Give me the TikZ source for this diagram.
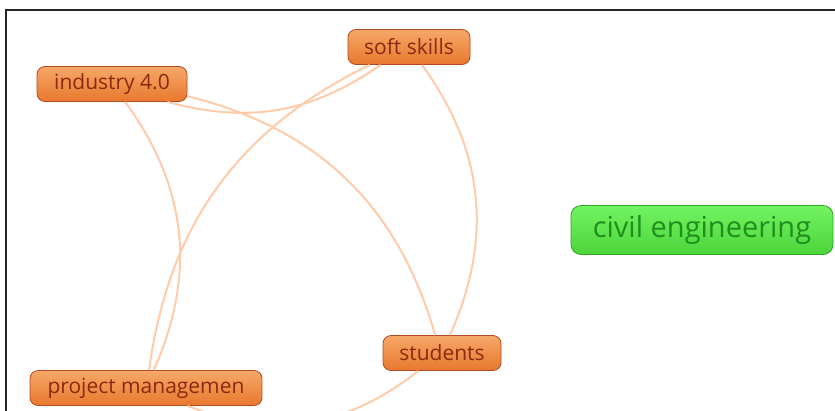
\documentclass[tikz,border=0pt]{standalone}
\usepackage{fontspec}
\setmainfont{Open Sans}
\definecolor{topic}{HTML}{E8782E}
\definecolor{topiclight}{HTML}{F6A868}
\definecolor{topicline}{HTML}{B24A22}
\definecolor{topictext}{HTML}{8A2A0E}
\definecolor{centre}{HTML}{4CD43A}
\definecolor{centrelight}{HTML}{72F462}
\definecolor{centreline}{HTML}{2EA624}
\definecolor{centretext}{HTML}{1F8E1C}
\definecolor{link}{HTML}{FFCBA8}
\begin{document}
\begin{tikzpicture}[x=1pt, y=-1pt,
    topic/.style ={rounded corners=8pt, draw=topicline, thick, top color=topiclight, bottom color=topic,
                   text=topictext, inner sep=0pt, minimum height=35pt, font=\fontsize{21}{24}\selectfont},
    hub/.style ={rounded corners=10pt, draw=centreline, thick, top color=centrelight, bottom color=centre,
                 text=centretext, inner sep=0pt, minimum height=49pt, minimum width=262pt, font=\fontsize{29}{34}\selectfont},
    link/.style ={draw=link, line width=2pt}]
   \useasboundingbox (0,0) rectangle (835,410);
   \draw[line width=2pt, black!85] (6,412) -- (6,10) -- (837,10);

   \node[topic, minimum width=150pt] (I) at (112,84)  {industry 4.0};
   \node[topic, minimum width=122pt] (S) at (409,47)  {soft skills};
   \node[topic, minimum width=118pt] (T) at (442,353) {students};
   \node[topic, minimum width=232pt] (P) at (146,388) {project managemen};
   \node[hub] (C) at (702,230) {civil engineering};

   \draw[link] (I) to [bend right = 25] (S);
   \draw[link] (I) to [bend left = 30] (T);
   \draw[link] (I) to [bend left = 30] (P);
   \draw[link] (S) to [bend right = 28] (P);
   \draw[link] (S) to [bend left = 30] (T);
   \draw[link] (T) to [bend left = 30] (P);
 \end{tikzpicture}
\end{document}
